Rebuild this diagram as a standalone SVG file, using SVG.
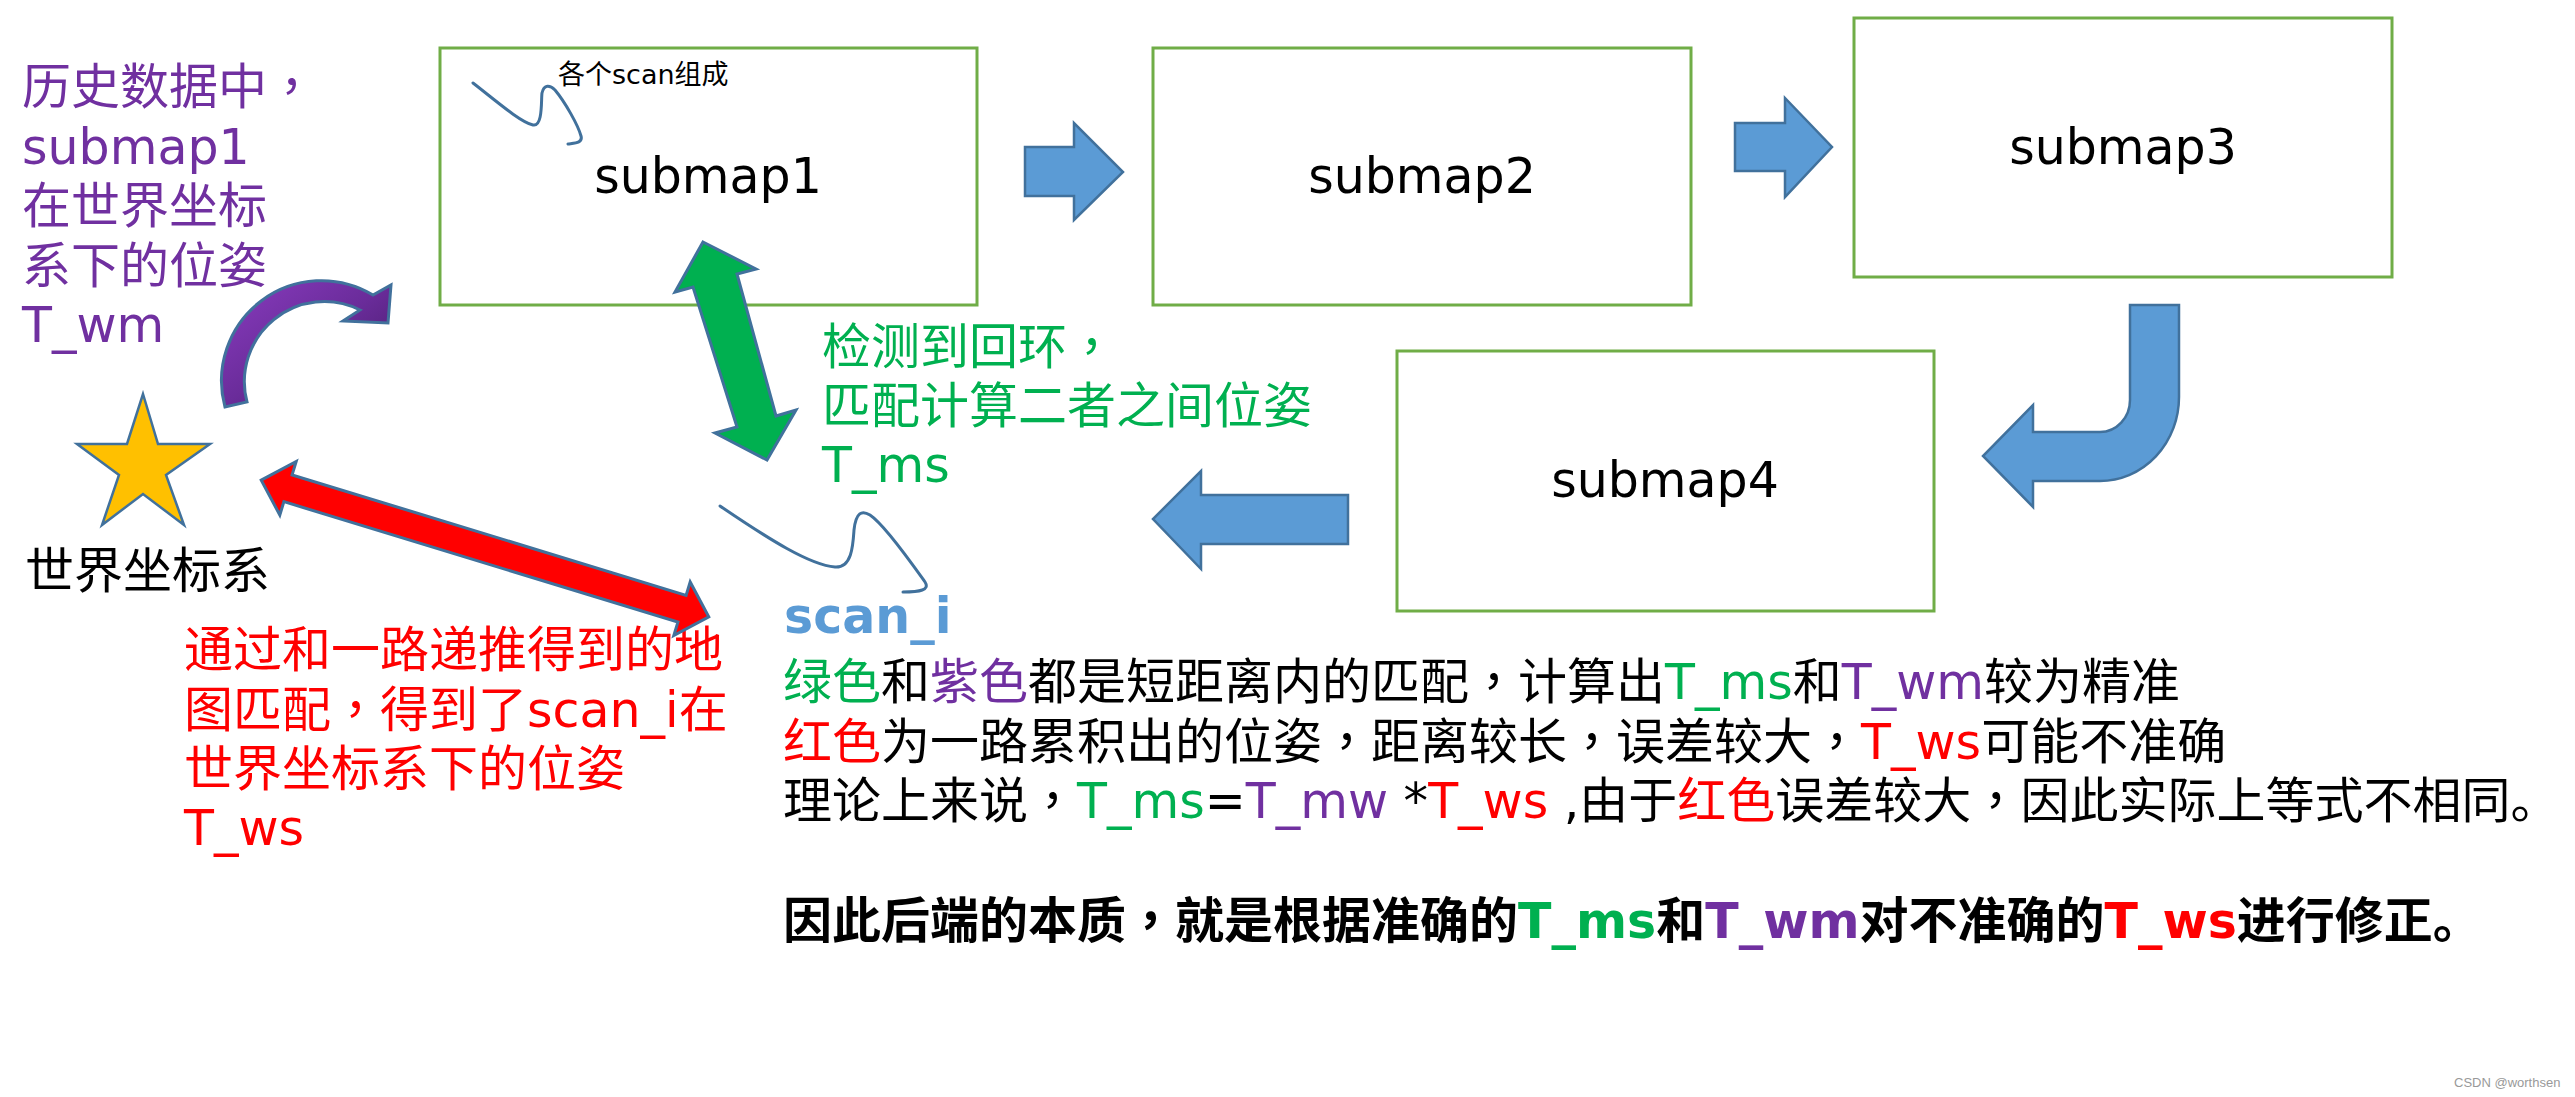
<svg xmlns="http://www.w3.org/2000/svg" width="2575" height="1097" viewBox="0 0 2575 1097">
<style>
  text { font-family: 'DejaVu Sans', 'Noto Sans CJK SC', sans-serif; font-size: 49px; white-space: pre; }
  .cm { font-family: 'Noto Sans CJK TC', 'Noto Sans CJK SC', sans-serif; }
  .box { fill: #FFFFFF; stroke: #70AD47; stroke-width: 3; }
  .blue { fill: #5B9BD5; stroke: #41719C; stroke-width: 2.5; stroke-linejoin: miter; }
  .squig { fill: none; stroke: #41719C; stroke-width: 3; stroke-linecap: round; stroke-linejoin: round; }
  .lbl { text-anchor: middle; fill: #000000; }
  .pur { fill: #7030A0; }
  .grn { fill: #00B050; }
  .red { fill: #FF0000; }
  .blk { fill: #000000; }
  .b { font-weight: bold; }
</style>
<defs>
  <linearGradient id="purpleGrad" x1="0" y1="0" x2="1" y2="1">
    <stop offset="0" stop-color="#8A3CC0"/>
    <stop offset="0.5" stop-color="#6A2C9A"/>
    <stop offset="1" stop-color="#3F1760"/>
  </linearGradient>
</defs>
<rect x="0" y="0" width="2575" height="1097" fill="#FFFFFF"/>

<g id="submap1">
  <rect class="box" x="440" y="48" width="537" height="257"/>
  <text class="lbl" x="708" y="193">submap1</text>
</g>
<g id="submap2">
  <rect class="box" x="1153" y="48" width="538" height="257"/>
  <text class="lbl" x="1422" y="193">submap2</text>
</g>
<g id="submap3">
  <rect class="box" x="1854" y="18" width="538" height="259"/>
  <text class="lbl" x="2123" y="164">submap3</text>
</g>
<g id="submap4">
  <rect class="box" x="1397" y="351" width="537" height="260"/>
  <text class="lbl" x="1665" y="497">submap4</text>
</g>

<g id="world-frame">
  <polygon points="143,394 158,444 210,444 166,475 184,525 143,494 102,525 119,475 77,444 127,444" fill="#FFC000" stroke="#41719C" stroke-width="2.5"/>
  <text class="blk" x="25" y="588">世界坐标系</text>
</g>

<g id="scan-i">
  <text class="b" x="784" y="633" fill="#5B9BD5">scan_i</text>
</g>

<g id="scan-note">
  <text class="blk" x="558" y="84" style="font-size:27px">各个scan组成</text>
</g>

<g id="wm-label">
  <text class="pur" x="22" y="104">历史数据中<tspan class="cm">，</tspan></text>
  <text class="pur" x="22" y="163.5">submap1</text>
  <text class="pur" x="22" y="223">在世界坐标</text>
  <text class="pur" x="22" y="282.5">系下的位姿</text>
  <text class="pur" x="22" y="342">T_wm</text>
</g>

<g id="ms-label">
  <text class="grn" x="822" y="364">检测到回环<tspan class="cm">，</tspan></text>
  <text class="grn" x="822" y="423">匹配计算二者之间位姿</text>
  <text class="grn" x="822" y="482">T_ms</text>
</g>

<g id="ws-label">
  <text class="red" x="184" y="667">通过和一路递推得到的地</text>
  <text class="red" x="184" y="727">图匹配<tspan class="cm">，</tspan>得到了scan_i在</text>
  <text class="red" x="184" y="786">世界坐标系下的位姿</text>
  <text class="red" x="184" y="845">T_ws</text>
</g>

<g id="explanation">
  <text x="783" y="699"><tspan class="grn">绿色</tspan><tspan class="blk">和</tspan><tspan class="pur">紫色</tspan><tspan class="blk">都是短距离内的匹配</tspan><tspan class="blk cm">，</tspan><tspan class="blk">计算出</tspan><tspan class="grn">T_ms</tspan><tspan class="blk">和</tspan><tspan class="pur">T_wm</tspan><tspan class="blk">较为精准</tspan></text>
  <text x="783" y="759"><tspan class="red">红色</tspan><tspan class="blk">为一路累积出的位姿</tspan><tspan class="blk cm">，</tspan><tspan class="blk">距离较长</tspan><tspan class="blk cm">，</tspan><tspan class="blk">误差较大</tspan><tspan class="blk cm">，</tspan><tspan class="red">T_ws</tspan><tspan class="blk">可能不准确</tspan></text>
  <text x="783" y="818"><tspan class="blk">理论上来说</tspan><tspan class="blk cm">，</tspan><tspan class="grn">T_ms</tspan><tspan class="blk">=</tspan><tspan class="pur">T_mw</tspan><tspan class="blk"> *</tspan><tspan class="red">T_ws</tspan><tspan class="blk"> ,由于</tspan><tspan class="red">红色</tspan><tspan class="blk">误差较大</tspan><tspan class="blk cm">，</tspan><tspan class="blk">因此实际上等式不相同。</tspan></text>
  <text class="b" x="783" y="938"><tspan class="blk">因此后端的本质</tspan><tspan class="blk cm">，</tspan><tspan class="blk">就是根据准确的</tspan><tspan class="grn">T_ms</tspan><tspan class="blk">和</tspan><tspan class="pur">T_wm</tspan><tspan class="blk">对不准确的</tspan><tspan class="red">T_ws</tspan><tspan class="blk">进行修正。</tspan></text>
</g>

<g id="connectors">
  <polygon class="blue" points="1025,147 1074,147 1074,123 1123,172 1074,220 1074,196 1025,196"/>
  <polygon class="blue" points="1735,123 1785,123 1785,98 1832,147 1785,197 1785,171 1735,171"/>
  <path class="blue" d="M2130,305 L2179,305 L2179,397 A79,84 0 0 1 2100,481 L2033,481 L2033,507 L1983,456 L2033,405 L2033,432 L2100,432 A30,32 0 0 0 2130,400 Z"/>
  <polygon class="blue" points="1348,495 1201,495 1201,471 1153,519 1201,569 1201,544 1348,544"/>
  <polygon points="703,242 756,269 737,274 776,416 796,410 767,460 715,433 737,427 693,287 675,292" fill="#00B050" stroke="#41719C" stroke-width="3" stroke-linejoin="miter"/>
  <polygon transform="translate(485,548.5) rotate(17)" points="-234,0 -206,-28 -206,-14 206,-14 206,-28 234,0 206,28 206,14 -206,14 -206,28" fill="#FF0000" stroke="#41719C" stroke-width="3"/>
  <path d="M225,407 A100,100 0 0 1 373,295 L391,285 L388,323 L343,321 L360,310 A80,80 0 0 0 247,402 Z" fill="url(#purpleGrad)" stroke="#41719C" stroke-width="3" stroke-linejoin="miter"/>
  <path class="squig" d="M473,83 C495,100 520,122 533,125 C543,127 541,100 542,93 C544,84 550,85 555,90 C565,102 578,125 581,136 C583,143 575,143 568,144"/>
  <path class="squig" d="M720,506 C770,540 810,565 835,567 C852,568 853,545 854,530 C856,512 862,510 870,515 C885,525 915,568 925,582 C930,590 920,592 903,592"/>
</g>

<text x="2454" y="1087" style="font-family:'Liberation Sans',Arial,sans-serif;font-size:13px" fill="#999999">CSDN @worthsen</text>
</svg>
